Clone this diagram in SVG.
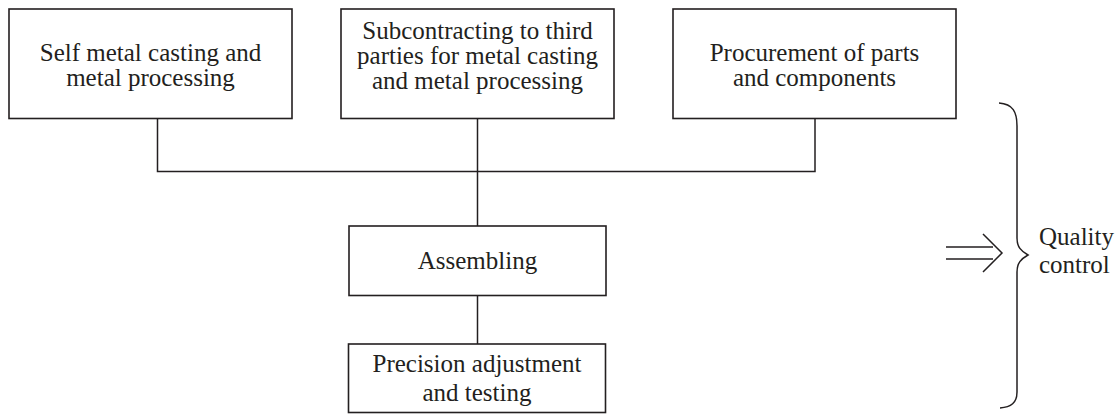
<svg xmlns="http://www.w3.org/2000/svg" width="1120" height="414" viewBox="0 0 1120 414">
  <style>
    .box { fill: #ffffff; stroke: #231f20; stroke-width: 1.6; }
    .wire { fill: none; stroke: #231f20; stroke-width: 1.5; }
    .label { font-family: "Liberation Serif", "Times New Roman", serif; font-size: 25px; fill: #231f20; text-anchor: middle; }
    .side { font-family: "Liberation Serif", "Times New Roman", serif; font-size: 25px; fill: #231f20; }
  </style>
  <rect width="1120" height="414" fill="#ffffff"/>

  <!-- connectors: three sources merge into assembling, then on to testing -->
  <g id="connectors">
    <path class="wire" d="M157.5 118.5 V171.5 H815 V118.5"/>
    <path class="wire" d="M477.5 118.5 V226"/>
    <path class="wire" d="M477.5 295.5 V344"/>
  </g>

  <g id="self-casting">
    <rect class="box" x="9" y="9" width="283" height="109.5"/>
    <text class="label" x="150.5" y="61">Self metal casting and</text>
    <text class="label" x="150.5" y="86">metal processing</text>
  </g>

  <g id="subcontracting">
    <rect class="box" x="341" y="9" width="273" height="109.5"/>
    <text class="label" x="477.5" y="39">Subcontracting to third</text>
    <text class="label" x="477.5" y="64">parties for metal casting</text>
    <text class="label" x="477.5" y="89">and metal processing</text>
  </g>

  <g id="procurement">
    <rect class="box" x="673" y="9" width="283" height="109.5"/>
    <text class="label" x="814.5" y="61">Procurement of parts</text>
    <text class="label" x="814.5" y="86">and components</text>
  </g>

  <g id="assembling">
    <rect class="box" x="349" y="226" width="257" height="69.5"/>
    <text class="label" x="477.5" y="269">Assembling</text>
  </g>

  <g id="precision">
    <rect class="box" x="348.5" y="344" width="257" height="68.5"/>
    <text class="label" x="477" y="372">Precision adjustment</text>
    <text class="label" x="477" y="401">and testing</text>
  </g>

  <!-- double arrow into the brace -->
  <g id="implies">
    <path class="wire" d="M946 247 H993 M946 259 H993 M983 234 L1002 253 L983 272" stroke-width="1.3"/>
  </g>

  <!-- curly brace spanning the whole process -->
  <g id="brace">
    <path class="wire" d="M999 103 C1013 104 1017 112 1017 126 V238 C1017 247 1021 251 1028 255 C1021 259 1017 263 1017 272 V392 C1017 403 1011 407 1000 408"/>
  </g>

  <g id="quality-control">
    <text class="side" x="1039" y="245">Quality</text>
    <text class="side" x="1039" y="273">control</text>
  </g>
</svg>
